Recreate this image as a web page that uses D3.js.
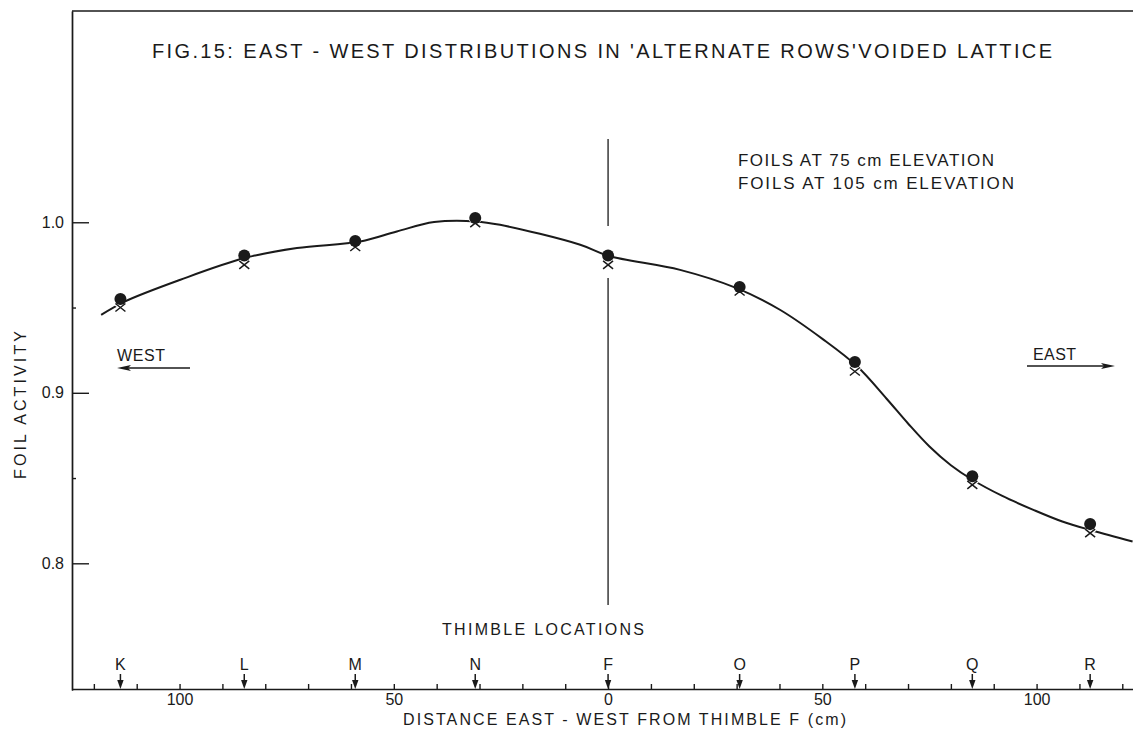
<!DOCTYPE html>
<html>
<head>
<meta charset="utf-8">
<script src="https://cdn.jsdelivr.net/npm/d3@7"></script>
<style>
  html, body { margin: 0; padding: 0; background: #fff; }
  svg { display: block; }
  text { font-family: "Liberation Sans", Arial, sans-serif; fill: #1a1a1a; }
</style>
</head>
<body>
<svg id="chart" width="1133" height="744"></svg>
<script>
// Thimble positions along the east-west line (cm from thimble F, west negative)
const thimbles   = ["K", "L", "M", "N", "F", "O", "P", "Q", "R"];
const thimblePos = [-113.8, -84.9, -59, -31, 0, 30.7, 57.6, 85, 112.5];

// Foil activities measured at each thimble
const foils75  = [0.955, 0.9805, 0.989, 1.0025, 0.9805, 0.962, 0.918, 0.851, 0.823];
const foils105 = [0.950, 0.975, 0.9855, 0.9995, 0.975, 0.9594, 0.9125, 0.846, 0.8177];

// Hand-faired curve through the measurements
const curveX = [-118.3, -112.8, -99.8, -84.8, -72.6, -57.8, -49.3, -40.6, -30.8, -25.2, -6.5, 0,
                16.8, 30, 40.1, 50.1, 58, 65, 70, 75, 80, 85, 92, 99.1, 106, 113, 122.4];
const curveY = [0.9457, 0.9535, 0.9663, 0.979, 0.9849, 0.9887, 0.9946, 1.0001, 1.0005, 0.9985, 0.9868, 0.9804,
                0.9721, 0.9614, 0.9487, 0.9315, 0.9158, 0.8965, 0.882, 0.8685, 0.8575, 0.849, 0.8395, 0.8315,
                0.8245, 0.8192, 0.8128];

// Axis ticks
const yMajorTicks = [0.8, 0.9, 1.0];
const yMinorTicks = [0.85, 0.95];
const xTicks = d3.range(-120, 121, 10);
const xLabelTicks = [-100, -50, 0, 50, 100];

const svg = d3.select("#chart");
const ink = "#1a1a1a";
const font = "Liberation Sans, Arial, sans-serif";

const x = d3.scaleLinear().domain([-125.1, 122.5]).range([72, 1133]);
const y = d3.scaleLinear().domain([0.7257, 1.1239]).range([690, 11]);

// frame: top border
svg.append("line")
  .attr("x1", 72).attr("x2", 1133).attr("y1", 11).attr("y2", 11)
  .attr("stroke", ink).attr("stroke-width", 1.3);

// y axis (ticks point into the plot)
const yAxisMajor = svg.append("g").attr("transform", "translate(72,0)")
  .call(d3.axisLeft(y).tickValues(yMajorTicks).tickSize(-17).tickSizeOuter(0)
        .tickPadding(8).tickFormat(d3.format(".1f")));
const yAxisMinor = svg.append("g").attr("transform", "translate(72,0)")
  .call(d3.axisLeft(y).tickValues(yMinorTicks).tickSize(-4).tickSizeOuter(0).tickFormat(""));
[yAxisMajor, yAxisMinor].forEach(g => {
  g.selectAll("path, line").attr("stroke", ink).attr("stroke-width", 1.4);
  g.selectAll("text").attr("font-size", 16).attr("font-family", font).attr("fill", ink);
});

// x axis
const xAxis = svg.append("g").attr("transform", "translate(0,689)")
  .call(d3.axisBottom(x).tickValues(xTicks).tickSize(-5).tickSizeOuter(0).tickPadding(5)
        .tickFormat(d => xLabelTicks.includes(d) ? String(Math.abs(d)) : ""));
xAxis.selectAll("path, line").attr("stroke", ink).attr("stroke-width", 1.4);
xAxis.selectAll("text").attr("font-size", 16).attr("font-family", font).attr("fill", ink);

// axis titles
svg.append("text")
  .attr("transform", "translate(26,405) rotate(-90)")
  .attr("text-anchor", "middle").attr("font-size", 16)
  .attr("textLength", 148).attr("lengthAdjust", "spacing")
  .text("FOIL ACTIVITY");

svg.append("text")
  .attr("x", 403).attr("y", 725).attr("font-size", 16)
  .attr("textLength", 443).attr("lengthAdjust", "spacing")
  .text("DISTANCE  EAST - WEST  FROM  THIMBLE  F  (cm)");

// chart title
svg.append("text")
  .attr("x", 152).attr("y", 58).attr("font-size", 20)
  .attr("textLength", 900).attr("lengthAdjust", "spacing")
  .text("FIG.15:  EAST - WEST  DISTRIBUTIONS  IN  'ALTERNATE ROWS'VOIDED  LATTICE");

// legend text
svg.append("text")
  .attr("x", 738).attr("y", 166).attr("font-size", 17)
  .attr("textLength", 256).attr("lengthAdjust", "spacing")
  .text("FOILS  AT 75 cm ELEVATION");
svg.append("text")
  .attr("x", 738).attr("y", 189).attr("font-size", 17)
  .attr("textLength", 276).attr("lengthAdjust", "spacing")
  .text("FOILS  AT 105 cm ELEVATION");

// vertical line through thimble F
const fx = x(0);
[[139, 226], [278, 605]].forEach(([a, b]) => {
  svg.append("line").attr("x1", fx).attr("x2", fx).attr("y1", a).attr("y2", b)
    .attr("stroke", ink).attr("stroke-width", 1.3);
});

// thimble locations
svg.append("text")
  .attr("x", 442).attr("y", 635).attr("font-size", 16)
  .attr("textLength", 202).attr("lengthAdjust", "spacing")
  .text("THIMBLE   LOCATIONS");

const th = svg.append("g");
thimbles.forEach((name, i) => {
  const tx = x(thimblePos[i]);
  th.append("text").attr("x", tx).attr("y", 670).attr("text-anchor", "middle")
    .attr("font-size", 16).text(name);
  th.append("line").attr("x1", tx).attr("x2", tx).attr("y1", 674).attr("y2", 684)
    .attr("stroke", ink).attr("stroke-width", 1.5);
  th.append("path")
    .attr("d", `M${tx - 3.2},680 L${tx + 3.2},680 L${tx},689 Z`)
    .attr("fill", ink);
});

// WEST / EAST direction arrows
svg.append("text").attr("x", 117).attr("y", 361).attr("font-size", 16)
  .attr("textLength", 48).attr("lengthAdjust", "spacing").text("WEST");
svg.append("line").attr("x1", 124).attr("x2", 190).attr("y1", 368).attr("y2", 368)
  .attr("stroke", ink).attr("stroke-width", 1.3);
svg.append("path").attr("d", "M117,368 L131,365 L128,368 L131,371 Z").attr("fill", ink);

svg.append("text").attr("x", 1033).attr("y", 360).attr("font-size", 16)
  .attr("textLength", 43).attr("lengthAdjust", "spacing").text("EAST");
svg.append("line").attr("x1", 1027).attr("x2", 1108).attr("y1", 366).attr("y2", 366)
  .attr("stroke", ink).attr("stroke-width", 1.3);
svg.append("path").attr("d", "M1115,366 L1101,363 L1104,366 L1101,369 Z").attr("fill", ink);

// faired curve
const curvePts = curveX.map((cx, i) => [cx, curveY[i]]);
svg.append("path")
  .datum(curvePts)
  .attr("fill", "none").attr("stroke", ink).attr("stroke-width", 2)
  .attr("d", d3.line().x(d => x(d[0])).y(d => y(d[1])).curve(d3.curveCatmullRom.alpha(0.5)));

// 105 cm foils: crosses, with a thin white halo that breaks the curve around them
const crossPath = (cx, cy) =>
  `M${cx - 5},${cy - 4} L${cx + 5},${cy + 4} M${cx + 5},${cy - 4} L${cx - 5},${cy + 4}`;
const crosses = svg.append("g");
thimblePos.forEach((p, i) => {
  const cx = x(p), cy = y(foils105[i]);
  crosses.append("path").attr("d", crossPath(cx, cy))
    .attr("stroke", "#fff").attr("stroke-width", 4).attr("fill", "none");
  crosses.append("path").attr("d", crossPath(cx, cy))
    .attr("stroke", ink).attr("stroke-width", 1.5).attr("fill", "none");
});

// 75 cm foils: filled dots
svg.append("g").selectAll("circle")
  .data(thimblePos.map((p, i) => [p, foils75[i]]))
  .join("circle")
  .attr("cx", d => x(d[0])).attr("cy", d => y(d[1])).attr("r", 6)
  .attr("fill", ink);
</script>
</body>
</html>
